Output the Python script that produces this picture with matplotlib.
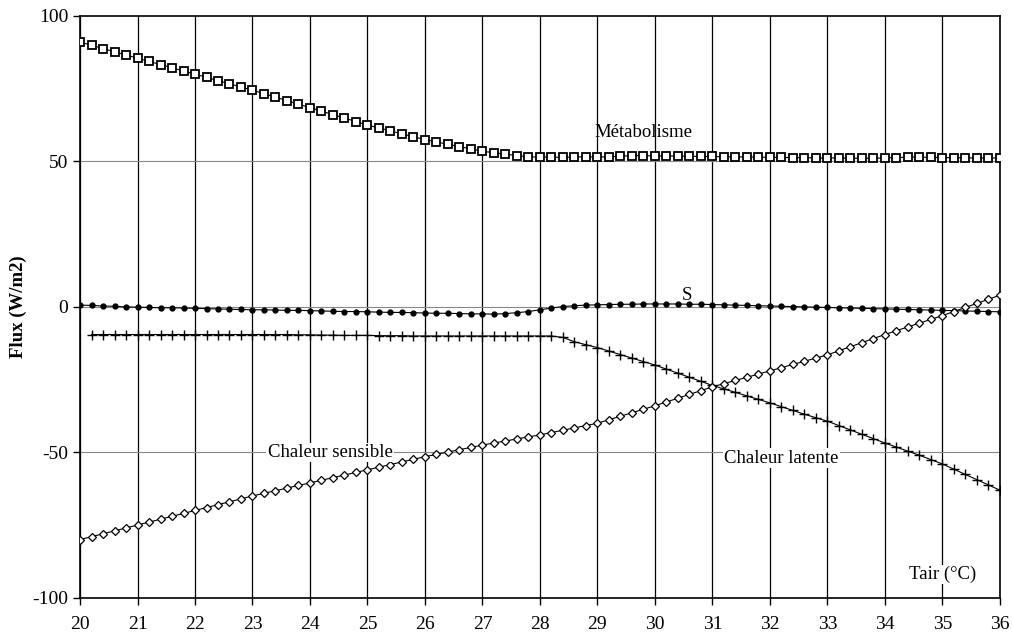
import numpy as np
import matplotlib
matplotlib.use("Agg")
import matplotlib.pyplot as plt

plt.rcParams['font.family'] = ['Liberation Serif', 'DejaVu Serif']
plt.rcParams['axes.unicode_minus'] = False

# abscisse : Tair de 20 a 36 par pas de 0.2
tair = np.round(np.arange(20.0, 36.01, 0.2), 1)
tair_lat = tair[1:]

metabolisme = [91, 90, 88.8, 87.7, 86.6, 85.5,
               84.4, 83.3, 82.2, 81.1, 80,
               78.9, 77.8, 76.7, 75.6, 74.5,
               73.3, 72.1, 70.9, 69.7, 68.5,
               67.3, 66.1, 64.9, 63.7, 62.5,
               61.5, 60.5, 59.5, 58.5, 57.5,
               56.7, 55.9, 55.1, 54.3, 53.5,
               53, 52.5, 52, 51.6, 51.5,
               51.5, 51.4, 51.5, 51.6, 51.5,
               51.6, 51.8, 52, 52, 51.9,
               51.9, 51.8, 51.8, 51.7, 51.7,
               51.6, 51.6, 51.5, 51.5, 51.4,
               51.4, 51.3, 51.3, 51.2, 51.2,
               51.2, 51.1, 51.1, 51.1, 51.2,
               51.3, 51.5, 51.5, 51.4, 51.3,
               51.3, 51.2, 51.2, 51.2, 51.2]

stockage = [0.6, 0.5, 0.3, 0.2, 0.0, -0.1,
            -0.2, -0.3, -0.3, -0.4, -0.5,
            -0.6, -0.7, -0.8, -0.9, -1.0,
            -1.0, -1.1, -1.2, -1.2, -1.3,
            -1.4, -1.5, -1.6, -1.6, -1.7,
            -1.8, -1.9, -1.9, -2.0, -2.1,
            -2.2, -2.2, -2.3, -2.4, -2.4,
            -2.5, -2.3, -2.0, -1.6, -1.0,
            -0.4, 0.1, 0.4, 0.6, 0.7,
            0.8, 0.9, 0.9, 1.0, 1.0,
            1.0, 1.0, 0.9, 0.9, 0.8,
            0.7, 0.6, 0.5, 0.4, 0.3,
            0.2, 0.1, 0.0, -0.1, -0.2,
            -0.3, -0.4, -0.5, -0.6, -0.7,
            -0.8, -0.9, -1.0, -1.1, -1.2,
            -1.3, -1.4, -1.5, -1.6, -1.7]

latente = [-9.5, -9.5, -9.5, -9.5, -9.5,
           -9.5, -9.5, -9.5, -9.5, -9.5,
           -9.5, -9.5, -9.5, -9.5, -9.5,
           -9.5, -9.5, -9.5, -9.6, -9.6,
           -9.7, -9.7, -9.8, -9.8, -9.8,
           -9.9, -9.9, -9.9, -10, -10,
           -10, -10, -10, -10, -10,
           -10, -10, -10, -10, -10,
           -10, -10.5, -12, -13, -14,
           -15.2, -16.4, -17.6, -18.8, -20,
           -21.4, -22.8, -24.2, -25.6, -27,
           -28.2, -29.4, -30.6, -31.8, -33,
           -34.3, -35.6, -36.9, -38.1, -39.3,
           -40.8, -42.3, -43.8, -45.3, -46.8,
           -48.2, -49.6, -51, -52.5, -54,
           -55.8, -57.6, -59.4, -61.2, -63]

sensible = [-80, -79, -78, -77, -76, -75,
            -74, -73, -72, -71, -70,
            -69, -68, -67, -66, -65,
            -64.1, -63.2, -62.3, -61.4, -60.5,
            -59.6, -58.7, -57.8, -56.9, -56,
            -55.1, -54.2, -53.3, -52.4, -51.5,
            -50.7, -49.9, -49.1, -48.3, -47.5,
            -46.8, -46.1, -45.4, -44.7, -44,
            -43.2, -42.4, -41.6, -40.8, -40,
            -38.8, -37.6, -36.4, -35.2, -34,
            -32.7, -31.4, -30.1, -28.8, -27.5,
            -26.4, -25.3, -24.2, -23.1, -22,
            -20.9, -19.8, -18.7, -17.6, -16.5,
            -15.1, -13.7, -12.3, -10.9, -9.5,
            -8.2, -6.9, -5.6, -4.3, -3,
            -1.6, -0.2, 1.2, 2.6, 4]

xticks = list(range(20, 37))
yticks = [-100, -50, 0, 50, 100]

fig = plt.figure(figsize=(10.13, 6.4), dpi=100)
ax = fig.add_axes([0.079, 0.066, 0.908, 0.909])

# grille
for x in xticks:
    ax.axvline(x, color='black', lw=0.9, zorder=1)
for y in [50, 0, -50]:
    ax.axhline(y, color='#888888', lw=0.8, zorder=1)

ax.plot(tair, metabolisme, color='black', lw=0.8, marker='s', ms=5.5,
        mfc='white', mec='black', mew=1.3, zorder=3)
ax.plot(tair, stockage, color='black', lw=0.8, marker='o', ms=3.5,
        mfc='black', mec='black', zorder=3)
ax.plot(tair_lat, latente, color='black', lw=0.8, marker='+', ms=7,
        mew=1.0, zorder=3)
ax.plot(tair, sensible, color='black', lw=0.8, marker='D', ms=4,
        mfc='white', mec='black', mew=0.9, zorder=3)

txt = dict(fontsize=13.5, color='black', zorder=5)
ax.text(29.8, 60, 'Métabolisme', ha='center', va='center', **txt)
ax.text(30.55, 4, 'S', ha='center', va='center', **txt)
ax.text(24.35, -50, 'Chaleur sensible', ha='center', va='center',
        bbox=dict(fc='white', ec='none', pad=1), **txt)
ax.text(32.2, -52, 'Chaleur latente', ha='center', va='center',
        bbox=dict(fc='white', ec='none', pad=1), **txt)
ax.text(35.0, -92, 'Tair (°C)', ha='center', va='center',
        bbox=dict(fc='white', ec='none', pad=1), **txt)

ax.set_xlim(20, 36)
ax.set_ylim(-100, 100)
ax.set_xticks(xticks)
ax.set_yticks(yticks)
ax.tick_params(labelsize=14, direction='out', length=5, width=1)
ax.tick_params(axis='x', pad=8)
ax.set_ylabel('Flux (W/m2)', fontsize=13.5, fontweight='bold')
for s in ax.spines.values():
    s.set_linewidth(1.2)

fig.savefig('out.png', dpi=100)
